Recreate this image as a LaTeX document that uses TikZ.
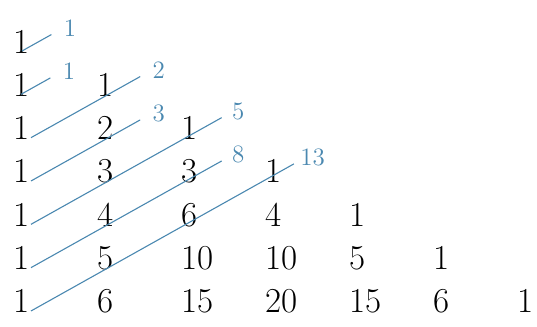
\documentclass[tikz,border=0pt]{standalone}
\usepackage{tikz}
\usetikzlibrary{calc}

\definecolor{fibblue}{RGB}{74,136,176}

\begin{document}
\begin{tikzpicture}[
  x=0.5pt, y=-0.5pt,
  num/.style={anchor=base west, inner sep=0pt, font=\fontsize{17.5}{20}\selectfont},
  sumlab/.style={anchor=base west, inner sep=0pt, text=fibblue, font=\fontsize{12.5}{14}\selectfont},
  diag/.style={draw=fibblue, line width=0.55pt}]
\useasboundingbox (0,0) rectangle (537,327);
% the triangle, left aligned
\foreach \vals [count=\r from 0] in {{1},{1,1},{1,2,1},{1,3,3,1},{1,4,6,4,1},{1,5,10,10,5,1},{1,6,15,20,15,6,1}}
  \foreach \v [count=\c from 0] in \vals
    \node[num] (n-\r-\c) at ({13+84*\c},{53+43.33*\r}) {\v};
% shallow diagonals and their sums
\foreach \n/\sx/\k/\dx/\f in {0/22/0.35/6/1, 1/21/0.35/6/1, 2/31/1.3/6/2, 3/31/1.3/6/3, 4/31/2.27/5/5, 5/31/2.27/5/8, 6/31/3.13/3/13} {
  \coordinate (s\n) at (\sx,{53+43.33*\n-2});
  \coordinate (e\n) at ($(s\n)+(84*\k,-47*\k)$);
  \node[sumlab, xshift=\dx pt, yshift=-1pt] (f\n) at (e\n) {\f};
  \draw[diag] (s\n) -- (e\n);
}
\end{tikzpicture}
\end{document}
